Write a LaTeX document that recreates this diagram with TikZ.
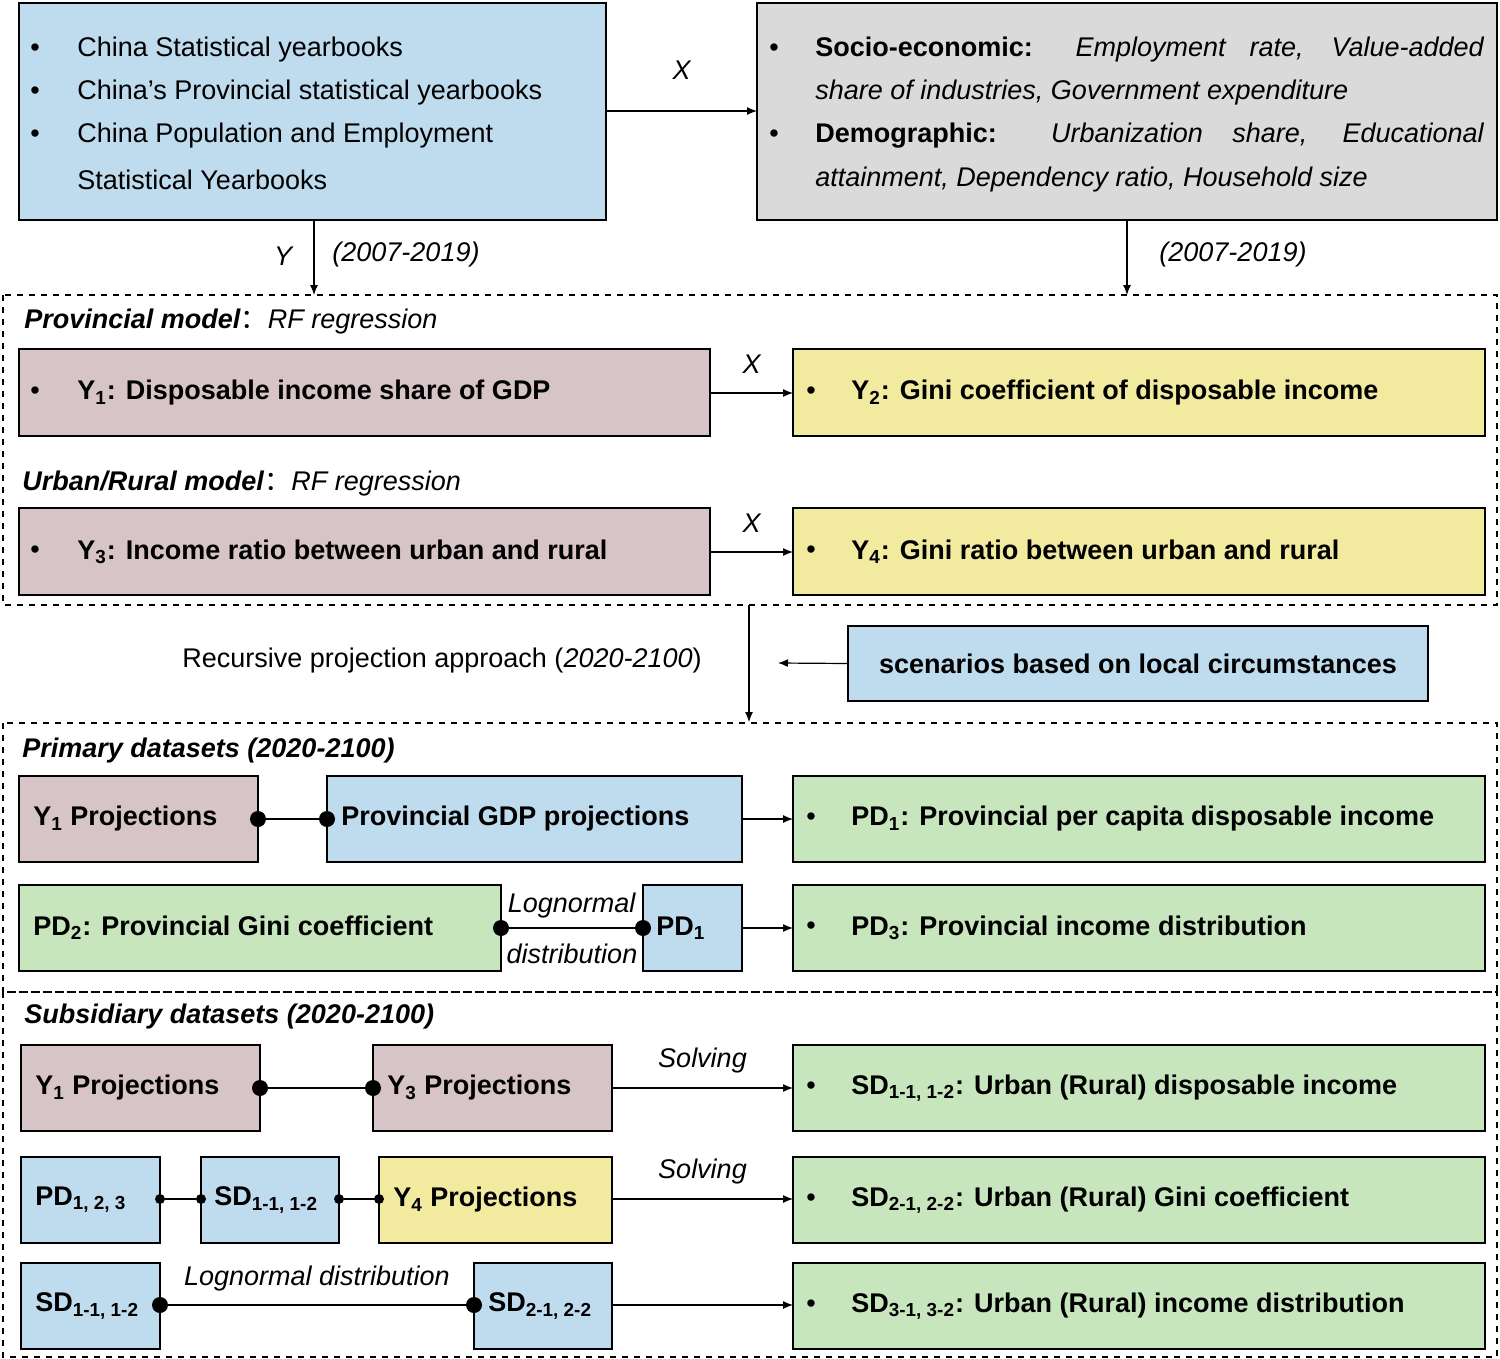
\documentclass[tikz,border=0pt]{standalone}
\usetikzlibrary{arrows.meta}
\usepackage{fontspec}
\setmainfont{Liberation Sans}
\newfontfamily\cjk{Noto Sans CJK SC}
\begin{document}
\begin{tikzpicture}[x=0.5pt,y=-0.5pt,
  box/.style={draw,line width=1pt},
  bl/.style={box,fill=cBlue}, gr/.style={box,fill=cGray}, mv/.style={box,fill=cMauve},
  ye/.style={box,fill=cYel}, gn/.style={box,fill=cGreen},
  t/.style={anchor=west,inner sep=0pt,font=\fontsize{13.5}{16}\selectfont},
  tb/.style={t,font=\fontsize{13.5}{16}\selectfont\bfseries},
  arr/.style={-{Latex[length=5pt,width=4pt]},line width=0.6pt},
  dot/.style={circle,fill=black,inner sep=0pt,minimum size=8pt},
  sdot/.style={circle,fill=black,inner sep=0pt,minimum size=5pt},
  dbox/.style={dashed,line width=0.6pt}]
\definecolor{cBlue}{HTML}{BFDBEE}
\definecolor{cGray}{HTML}{DADADA}
\definecolor{cMauve}{HTML}{D6C4C7}
\definecolor{cYel}{HTML}{F1EA9F}
\definecolor{cGreen}{HTML}{C8E6BE}
\useasboundingbox (0,0) rectangle (1500,1359);
% top boxes
\draw[bl] (19,3) rectangle (606,220);
\draw[gr] (757,3) rectangle (1497,220);
\node[coordinate] (srcR) at (606,111) {}; \node[coordinate] (socL) at (757,111) {};
\foreach \y/\s in {50/China Statistical yearbooks,93/China’s Provincial statistical yearbooks,136/China Population and Employment}{
 \node[t] at (30,\y) {•}; \node[t] at (77,\y) {\s};}
\node[t] at (77,180) {Statistical Yearbooks};
\node[t] at (769,50) {•}; \node[t] at (769,136) {•};
\node[t] at (815,50) {\makebox[334.5pt][s]{\textbf{Socio-economic:} \textit{Employment rate, Value-added}}};
\node[t] at (815,93) {\textit{share of industries, Government expenditure}};
\node[t] at (815,136) {\makebox[334.5pt][s]{\textbf{Demographic:} \textit{Urbanization share, Educational}}};
\node[t] at (815,180) {\textit{attainment, Dependency ratio, Household size}};
\draw[arr] (srcR) -- node[above=12pt,font=\fontsize{13.5}{16}\selectfont\itshape]{X} (socL);
\node[coordinate] (a1) at (314,220) {}; \node[coordinate] (a2) at (314,295) {};
\draw[arr] (a1) -- (a2);
\node[t,anchor=center] at (284,256) {\textit{Y}};
\node[t,anchor=center] at (406,255) {\textit{(2007-2019)}};
\node[coordinate] (b1) at (1127,220) {}; \node[coordinate] (b2) at (1127,295) {};
\draw[arr] (b1) -- (b2);
\node[t,anchor=center] at (1233,255) {\textit{(2007-2019)}};
% dashed boxes
\draw[dbox] (3,295) rectangle (1497,605);
\draw[dbox] (3,723) rectangle (1497,992);
\draw[dbox] (3,992) rectangle (1497,1357);
% provincial
\node[t] at (24,322) {\textbf{\textit{Provincial model}}{\cjk：}\textit{RF regression}};
\draw[mv] (19,349) rectangle (710,436); \draw[ye] (793,349) rectangle (1485,436);
\node[t] at (30,393) {•}; \node[tb] at (77,393) {Y\textsubscript{1}: Disposable income share of GDP};
\node[t] at (806,393) {•}; \node[tb] at (851,393) {Y\textsubscript{2}: Gini coefficient of disposable income};
\node[coordinate] (p1) at (710,393) {}; \node[coordinate] (p2) at (793,393) {};
\draw[arr] (p1) -- node[above=6pt,font=\fontsize{13.5}{16}\selectfont\itshape]{X} (p2);
\node[t] at (22,484) {\textbf{\textit{Urban/Rural model}}{\cjk：}\textit{RF regression}};
\draw[mv] (19,508) rectangle (710,595); \draw[ye] (793,508) rectangle (1485,595);
\node[t] at (30,552) {•}; \node[tb] at (77,552) {Y\textsubscript{3}: Income ratio between urban and rural};
\node[t] at (806,552) {•}; \node[tb] at (851,552) {Y\textsubscript{4}: Gini ratio between urban and rural};
\node[coordinate] (u1) at (710,552) {}; \node[coordinate] (u2) at (793,552) {};
\draw[arr] (u1) -- node[above=6pt,font=\fontsize{13.5}{16}\selectfont\itshape]{X} (u2);
% recursive
\node[coordinate] (r1) at (749,605) {}; \node[coordinate] (r2) at (749,722) {};
\draw[arr] (r1) -- (r2);
\node[t,anchor=center] at (442,661) {Recursive projection approach (\textit{2020-2100})};
\node[bl,minimum width=290pt,minimum height=37.5pt,inner sep=0pt,font=\fontsize{13.5}{16}\selectfont\bfseries] (sc) at (1138,663.5) {scenarios based on local circumstances};
\node[coordinate] (r3) at (778,663) {};
\draw[arr] (sc.west) -- (r3);
% primary
\node[t] at (22,751) {\textbf{\textit{Primary datasets (2020-2100)}}};
\draw[mv] (19,776) rectangle (258,862); \draw[bl] (327,776) rectangle (742,862); \draw[gn] (793,776) rectangle (1485,862);
\node[tb] at (33,819) {Y\textsubscript{1} Projections};
\node[tb] at (341,819) {Provincial GDP projections};
\node[t] at (806,819) {•}; \node[tb] at (851,819) {PD\textsubscript{1}: Provincial per capita disposable income};
\node[dot] (d1) at (258,819) {}; \node[dot] (d2) at (327,819) {}; \draw[line width=0.8pt] (d1) -- (d2);
\node[coordinate] (q1) at (742,819) {}; \node[coordinate] (q2) at (793,819) {}; \draw[arr] (q1) -- (q2);
\draw[gn] (19,885) rectangle (501,971); \draw[bl] (643,885) rectangle (742,971); \draw[gn] (793,885) rectangle (1485,971);
\node[tb] at (33,928) {PD\textsubscript{2}: Provincial Gini coefficient};
\node[tb] at (656,928) {PD\textsubscript{1}};
\node[t] at (806,928) {•}; \node[tb] at (851,928) {PD\textsubscript{3}: Provincial income distribution};
\node[dot] (d3) at (501,928) {}; \node[dot] (d4) at (643,928) {}; \draw[line width=0.8pt] (d3) -- (d4);
\node[t,anchor=center] at (572,906) {\textit{Lognormal}};
\node[t,anchor=center] at (572,954) {\textit{distribution}};
\node[coordinate] (q3) at (742,928) {}; \node[coordinate] (q4) at (793,928) {}; \draw[arr] (q3) -- (q4);
% subsidiary
\node[t] at (24,1017) {\textbf{\textit{Subsidiary datasets (2020-2100)}}};
\draw[mv] (21,1045) rectangle (260,1131); \draw[mv] (373,1045) rectangle (612,1131); \draw[gn] (793,1045) rectangle (1485,1131);
\node[tb] at (35,1088) {Y\textsubscript{1} Projections};
\node[tb] at (387,1088) {Y\textsubscript{3} Projections};
\node[t] at (806,1088) {•}; \node[tb] at (851,1088) {SD\textsubscript{1-1, 1-2}: Urban (Rural) disposable income};
\node[dot] (e1) at (260,1088) {}; \node[dot] (e2) at (373,1088) {}; \draw[line width=0.8pt] (e1) -- (e2);
\node[coordinate] (s1) at (612,1088) {}; \node[coordinate] (s2) at (793,1088) {};
\draw[arr] (s1) -- node[above=4pt,font=\fontsize{13.5}{16}\selectfont\itshape]{Solving} (s2);
\draw[bl] (21,1157) rectangle (160,1243); \draw[bl] (201,1157) rectangle (339,1243); \draw[ye] (379,1157) rectangle (612,1243); \draw[gn] (793,1157) rectangle (1485,1243);
\node[tb] at (35,1200) {PD\textsubscript{1, 2, 3}};
\node[tb] at (214,1200) {SD\textsubscript{1-1, 1-2}};
\node[tb] at (393,1200) {Y\textsubscript{4} Projections};
\node[t] at (806,1200) {•}; \node[tb] at (851,1200) {SD\textsubscript{2-1, 2-2}: Urban (Rural) Gini coefficient};
\node[sdot] (f1) at (160,1199) {}; \node[sdot] (f2) at (201,1199) {}; \node[sdot] (f3) at (339,1199) {}; \node[sdot] (f4) at (379,1199) {};
\draw[line width=0.8pt] (f1) -- (f2); \draw[line width=0.8pt] (f3) -- (f4);
\node[coordinate] (s3) at (612,1199) {}; \node[coordinate] (s4) at (793,1199) {};
\draw[arr] (s3) -- node[above=4pt,font=\fontsize{13.5}{16}\selectfont\itshape]{Solving} (s4);
\draw[bl] (21,1263) rectangle (160,1349); \draw[bl] (474,1263) rectangle (612,1349); \draw[gn] (793,1263) rectangle (1485,1349);
\node[tb] at (35,1306) {SD\textsubscript{1-1, 1-2}};
\node[tb] at (488,1306) {SD\textsubscript{2-1, 2-2}};
\node[t] at (806,1306) {•}; \node[tb] at (851,1306) {SD\textsubscript{3-1, 3-2}: Urban (Rural) income distribution};
\node[dot] (g1) at (160,1305) {}; \node[dot] (g2) at (474,1305) {};
\draw[line width=0.8pt] (g1) -- node[above=3pt,font=\fontsize{13.5}{16}\selectfont\itshape]{Lognormal distribution} (g2);
\node[coordinate] (s5) at (612,1305) {}; \node[coordinate] (s6) at (793,1305) {}; \draw[arr] (s5) -- (s6);
\end{tikzpicture}
\end{document}
